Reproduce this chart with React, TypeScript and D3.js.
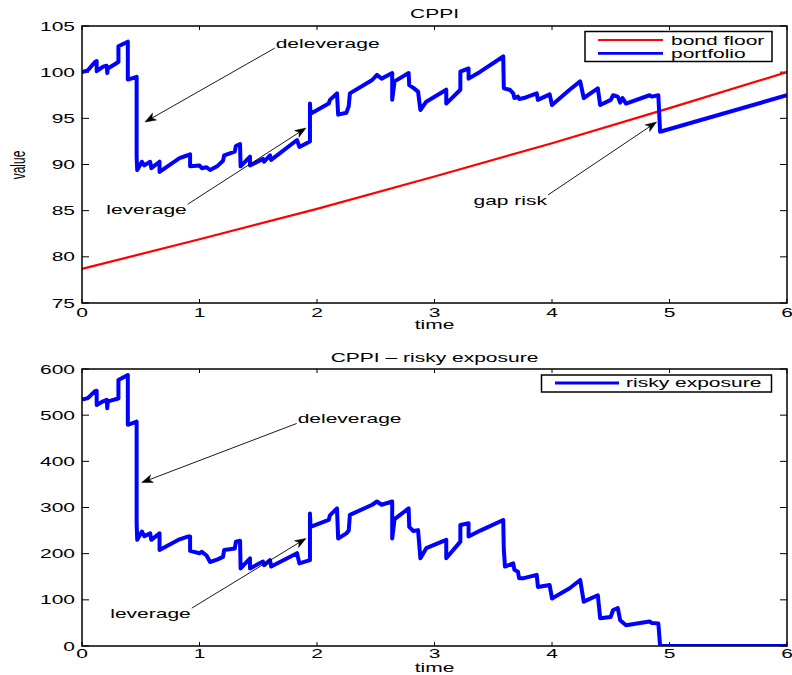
import React from 'react';
import * as d3 from 'd3';

// ---------- data ----------
const TIME_TICKS = [0, 1, 2, 3, 4, 5, 6];
const VALUE_TICKS = [75, 80, 85, 90, 95, 100, 105];
const EXPO_TICKS = [0, 100, 200, 300, 400, 500, 600];

const FLOOR_T = [0, 1, 2, 3, 4, 5, 6];
const FLOOR_V = [78.7, 81.9, 85.2, 88.7, 92.3, 96.1, 100.0];

const PORT_T = [0, 0.05, 0.11, 0.125, 0.125, 0.18, 0.21, 0.215, 0.22, 0.31, 0.31, 0.39, 0.39, 0.465, 0.465, 0.47,
  0.51, 0.53, 0.58, 0.59, 0.66, 0.66, 0.83, 0.90, 0.92, 0.92, 1.0, 1.02, 1.06, 1.09, 1.15, 1.2, 1.21, 1.30, 1.31,
  1.345, 1.35, 1.43, 1.43, 1.54, 1.55, 1.6, 1.61, 1.83, 1.85, 1.94, 1.94, 1.945, 2.1, 2.11, 2.17, 2.18, 2.25, 2.27,
  2.28, 2.47, 2.51, 2.55, 2.64, 2.64, 2.66, 2.78, 2.785, 2.82, 2.86, 2.88, 2.93, 3.1, 3.1, 3.22, 3.22, 3.29, 3.29,
  3.39, 3.585, 3.59, 3.64, 3.67, 3.68, 3.71, 3.72, 3.76, 3.87, 3.88, 3.98, 4.0, 4.15, 4.24, 4.27, 4.39, 4.41, 4.5,
  4.52, 4.56, 4.58, 4.6, 4.63, 4.83, 4.85, 4.905, 4.92, 6];
const PORT_V = [100.0, 100.2, 101.1, 101.2, 100.1, 100.6, 100.7, 99.9, 100.4, 101.1, 102.8, 103.3, 99.2, 99.5, 90.8, 89.4,
  90.3, 89.9, 90.3, 89.6, 90.3, 89.2, 90.7, 91.0, 91.1, 89.8, 89.9, 89.6, 89.7, 89.4, 89.8, 90.4, 91.0, 91.4, 92.0,
  92.2, 89.8, 90.85, 89.9, 90.6, 90.3, 91.0, 90.5, 92.65, 91.9, 92.5, 96.6, 95.5, 96.6, 97.0, 97.7, 95.4, 95.6, 96.3,
  97.7, 99.15, 99.7, 99.3, 99.9, 97.0, 99.0, 99.9, 98.6, 98.3, 97.9, 95.9, 96.8, 98.1, 96.6, 98.1, 100.05, 100.4, 99.3,
  100.05, 101.7, 98.25, 98.1, 97.7, 97.2, 97.35, 97.1, 97.2, 97.7, 97.0, 97.6, 96.45, 98.1, 99.0, 97.2, 98.25, 96.45, 97.0,
  97.5, 97.35, 96.7, 97.2, 96.6, 97.5, 97.35, 97.5, 93.55, 97.5];

const EXPO_T = [0, 0.05, 0.11, 0.125, 0.125, 0.18, 0.21, 0.215, 0.22, 0.31, 0.31, 0.39, 0.39, 0.465, 0.465, 0.47,
  0.51, 0.53, 0.58, 0.59, 0.66, 0.66, 0.83, 0.90, 0.92, 0.92, 1.0, 1.02, 1.06, 1.09, 1.15, 1.2, 1.21, 1.30, 1.31,
  1.345, 1.35, 1.43, 1.43, 1.54, 1.55, 1.6, 1.61, 1.83, 1.85, 1.94, 1.94, 1.945, 2.1, 2.11, 2.17, 2.18, 2.25, 2.27,
  2.28, 2.47, 2.51, 2.55, 2.64, 2.64, 2.66, 2.78, 2.785, 2.82, 2.86, 2.88, 2.93, 3.1, 3.1, 3.22, 3.22, 3.29, 3.29,
  3.39, 3.585, 3.59, 3.6, 3.67, 3.68, 3.71, 3.72, 3.76, 3.87, 3.88, 3.98, 4.0, 4.15, 4.24, 4.27, 4.39, 4.41, 4.5,
  4.52, 4.56, 4.58, 4.63, 4.83, 4.85, 4.905, 4.92, 6];
const EXPO_V = [534, 537, 552, 553, 522, 530, 533, 515, 530, 536, 576, 587, 479, 486, 266, 230,
  248, 238, 244, 230, 244, 208, 231, 237, 237, 206, 201, 204, 196, 182, 187, 193, 208, 211, 226,
  228, 168, 190, 168, 183, 175, 186, 172, 201, 179, 186, 287, 258, 273, 283, 298, 233, 244, 250,
  284, 306, 313, 306, 313, 233, 275, 298, 258, 249, 251, 190, 212, 230, 190, 226, 262, 266, 237,
  250, 273, 208, 172, 179, 165, 161, 147, 147, 154, 128, 132, 103, 125, 143, 96, 110, 60, 63,
  78, 82, 56, 45, 53, 50, 49, 0, 0];

const TOP_LEGEND = ['bond floor', 'portfolio'];
const BOTTOM_LEGEND = ['risky exposure'];

const TOP_ANN_LABELS = ['deleverage', 'leverage', 'gap risk'];
const TOP_ANN_TAIL_T = [1.64, 0.90, 3.966];
const TOP_ANN_TAIL_V = [102.6, 85.7, 86.7];
const TOP_ANN_HEAD_T = [0.536, 1.906, 4.89];
const TOP_ANN_HEAD_V = [94.6, 93.95, 94.6];
const TOP_ANN_SIDE = ['start', 'end', 'end'];

const BOT_ANN_LABELS = ['deleverage', 'leverage'];
const BOT_ANN_TAIL_T = [1.827, 0.934];
const BOT_ANN_TAIL_V = [482, 82];
const BOT_ANN_HEAD_T = [0.508, 1.906];
const BOT_ANN_HEAD_V = [354, 233];
const BOT_ANN_SIDE = ['start', 'end'];

// ---------- layout ----------
const W = 792, H = 675;
const X0 = 82, X1 = 787;
const TOP_Y0 = 26, TOP_Y1 = 303;
const BOT_Y0 = 369, BOT_Y1 = 646;
const SX = 1.75;
const FONT = "'Liberation Sans', Arial, Helvetica, sans-serif";
const BLUE = '#0000ff';
const RED = '#ff0000';

function Txt({ x, y, anchor = 'start', size = 12, sx = SX, rotate = 0, children }: any) {
  return (
    <text
      transform={`translate(${x},${y}) scale(${sx},1)${rotate ? ` rotate(${rotate})` : ''}`}
      textAnchor={anchor}
      fontSize={size}
      fontFamily={FONT}
      fill="#000"
    >
      {children}
    </text>
  );
}

function Arrow({ x1, y1, x2, y2 }: any) {
  const dx = x2 - x1, dy = y2 - y1;
  const len = Math.hypot(dx, dy);
  const ux = dx / len, uy = dy / len;
  const px = -uy, py = ux;
  const L = 11, Wd = 4, N = 8;
  const bx = x2 - ux * L, by = y2 - uy * L;
  const nx = x2 - ux * N, ny = y2 - uy * N;
  const head = `M${x2},${y2} L${bx + px * Wd},${by + py * Wd} L${nx},${ny} L${bx - px * Wd},${by - py * Wd} Z`;
  return (
    <g>
      <line x1={x1} y1={y1} x2={nx} y2={ny} stroke="#000" strokeWidth={0.9} />
      <path d={head} fill="#000" stroke="#000" strokeWidth={0.5} />
    </g>
  );
}

function Axes({ x, y, ticksY, y0, y1 }: any) {
  return (
    <g>
      <rect x={X0} y={y0} width={X1 - X0} height={y1 - y0} fill="#fff" stroke="none" />
      {TIME_TICKS.map((t: number) => (
        <g key={'xt' + t}>
          <line x1={x(t)} x2={x(t)} y1={y1} y2={y1 - 4} stroke="#000" strokeWidth={1} />
          <line x1={x(t)} x2={x(t)} y1={y0} y2={y0 + 4} stroke="#000" strokeWidth={1} />
        </g>
      ))}
      {ticksY.map((v: number) => (
        <g key={'yt' + v}>
          <line x1={X0} x2={X0 + 7} y1={y(v)} y2={y(v)} stroke="#000" strokeWidth={1} />
          <line x1={X1} x2={X1 - 7} y1={y(v)} y2={y(v)} stroke="#000" strokeWidth={1} />
        </g>
      ))}
    </g>
  );
}

function AxisLabels({ x, y, ticksY, xLabelY }: any) {
  return (
    <g>
      {TIME_TICKS.map((t: number) => (
        <Txt key={'xl' + t} x={x(t)} y={xLabelY} anchor="middle">{String(t)}</Txt>
      ))}
      {ticksY.map((v: number) => (
        <Txt key={'yl' + v} x={X0 - 7} y={y(v) + 4.5} anchor="end">{String(v)}</Txt>
      ))}
    </g>
  );
}

function Annotations({ x, y, labels, tt, tv, ht, hv, side }: any) {
  return (
    <g>
      {labels.map((lab: string, i: number) => {
        const tx = x(tt[i]), ty = y(tv[i]);
        const hx = x(ht[i]), hy = y(hv[i]);
        const isStart = side[i] === 'start';
        return (
          <g key={lab + i}>
            <Arrow x1={tx} y1={ty} x2={hx} y2={hy} />
            <Txt x={isStart ? tx + 1 : tx - 1} y={isStart ? ty : ty + 10} anchor={isStart ? 'start' : 'end'}>{lab}</Txt>
          </g>
        );
      })}
    </g>
  );
}

export default function App() {
  const x = d3.scaleLinear().domain([0, 6]).range([X0, X1]);
  const yTop = d3.scaleLinear().domain([75, 105]).range([TOP_Y1, TOP_Y0]);
  const yBot = d3.scaleLinear().domain([0, 600]).range([BOT_Y1, BOT_Y0]);

  const topLine = d3.line<number>().x((_, i) => x(PORT_T[i])).y((v) => yTop(v));
  const floorLine = d3.line<number>().x((_, i) => x(FLOOR_T[i])).y((v) => yTop(v)).curve(d3.curveMonotoneX);
  const botLine = d3.line<number>().x((_, i) => x(EXPO_T[i])).y((v) => yBot(v));

  const cx = (X0 + X1) / 2;

  return (
    <svg width={W} height={H} style={{ position: 'absolute', left: 0, top: 0, background: '#fff' }}>
      <rect x={0} y={0} width={W} height={H} fill="#fff" />

      {/* ---- top panel ---- */}
      <Axes x={x} y={yTop} ticksY={VALUE_TICKS} y0={TOP_Y0} y1={TOP_Y1} />
      <clipPath id="clipTop"><rect x={X0} y={TOP_Y0} width={X1 - X0} height={TOP_Y1 - TOP_Y0} /></clipPath>
      <g clipPath="url(#clipTop)">
        <path d={floorLine(FLOOR_V) || ''} fill="none" stroke={RED} strokeWidth={2.2} />
        <path d={topLine(PORT_V) || ''} fill="none" stroke={BLUE} strokeWidth={4} strokeLinejoin="round" />
      </g>
      <rect x={X0} y={TOP_Y0} width={X1 - X0} height={TOP_Y1 - TOP_Y0} fill="none" stroke="#000" strokeWidth={1.5} />
      <AxisLabels x={x} y={yTop} ticksY={VALUE_TICKS} xLabelY={317} />
      <Txt x={cx} y={18} anchor="middle">CPPI</Txt>
      <Txt x={cx} y={329} anchor="middle">time</Txt>
      <Txt x={25} y={165} anchor="middle" size={12} sx={1.7} rotate={-90}>value</Txt>
      <Annotations x={x} y={yTop} labels={TOP_ANN_LABELS} tt={TOP_ANN_TAIL_T} tv={TOP_ANN_TAIL_V}
        ht={TOP_ANN_HEAD_T} hv={TOP_ANN_HEAD_V} side={TOP_ANN_SIDE} />
      {/* legend */}
      <g>
        <rect x={585} y={31.5} width={187} height={30} fill="#fff" stroke="#000" strokeWidth={1.5} />
        <line x1={598} x2={663} y1={40} y2={40} stroke={RED} strokeWidth={2.2} />
        <Txt x={671} y={44.5}>{TOP_LEGEND[0]}</Txt>
        <line x1={598} x2={663} y1={53.3} y2={53.3} stroke={BLUE} strokeWidth={2.8} />
        <Txt x={671} y={57.5}>{TOP_LEGEND[1]}</Txt>
      </g>

      {/* ---- bottom panel ---- */}
      <Axes x={x} y={yBot} ticksY={EXPO_TICKS} y0={BOT_Y0} y1={BOT_Y1} />
      <clipPath id="clipBot"><rect x={X0} y={BOT_Y0 - 2} width={X1 - X0} height={BOT_Y1 - BOT_Y0 + 2} /></clipPath>
      <g clipPath="url(#clipBot)">
        <path d={botLine(EXPO_V) || ''} fill="none" stroke={BLUE} strokeWidth={4} strokeLinejoin="round" />
      </g>
      <rect x={X0} y={BOT_Y0} width={X1 - X0} height={BOT_Y1 - BOT_Y0} fill="none" stroke="#000" strokeWidth={1.5} />
      <AxisLabels x={x} y={yBot} ticksY={EXPO_TICKS} xLabelY={658} />
      <Txt x={cx} y={362} anchor="middle">CPPI – risky exposure</Txt>
      <Txt x={cx} y={672} anchor="middle">time</Txt>
      <Annotations x={x} y={yBot} labels={BOT_ANN_LABELS} tt={BOT_ANN_TAIL_T} tv={BOT_ANN_TAIL_V}
        ht={BOT_ANN_HEAD_T} hv={BOT_ANN_HEAD_V} side={BOT_ANN_SIDE} />
      <g>
        <rect x={541.5} y={375} width={230} height={17} fill="#fff" stroke="#000" strokeWidth={1.5} />
        <line x1={555} x2={619} y1={383} y2={383} stroke={BLUE} strokeWidth={2.8} />
        <Txt x={626} y={387}>{BOTTOM_LEGEND[0]}</Txt>
      </g>
    </svg>
  );
}
